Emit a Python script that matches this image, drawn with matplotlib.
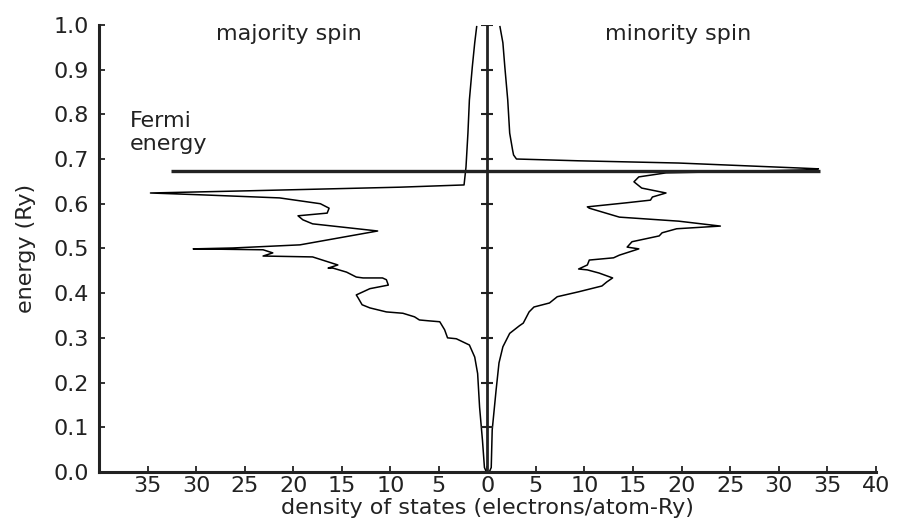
import numpy as np
import matplotlib.pyplot as plt

plt.rcParams['font.family'] = ['DejaVu Sans']

# majority spin DOS (plotted to the left), energy in Ry
maj_energy = [0.0, 0.01, 0.07, 0.145, 0.22, 0.257, 0.284, 0.298, 0.30, 0.318, 0.336,
              0.338, 0.34, 0.347, 0.355, 0.358, 0.367, 0.374, 0.389, 0.396, 0.41,
              0.418, 0.43, 0.434, 0.434, 0.436, 0.447, 0.456, 0.456, 0.463, 0.481,
              0.483, 0.49, 0.497, 0.499, 0.501, 0.508, 0.539, 0.555, 0.564, 0.573,
              0.579, 0.59, 0.60, 0.613, 0.62, 0.624, 0.629, 0.637, 0.642, 0.682,
              0.758, 0.832, 0.906, 0.96, 0.996]
maj_dos = [0.1, 0.3, 0.5, 0.8, 1.0, 1.3, 1.85, 3.2, 4.1, 4.4, 4.9,
           6.0, 7.0, 7.5, 8.7, 10.4, 12.1, 12.9, 13.3, 13.5, 12.1,
           10.2, 10.4, 10.8, 12.8, 13.5, 14.5, 15.9, 16.4, 15.4, 18.0,
           23.1, 22.1, 23.1, 30.3, 26.2, 19.3, 11.3, 18.0, 19.0, 19.5,
           16.5, 16.3, 17.2, 21.4, 29.6, 34.7, 24.4, 9.0, 2.4, 2.2,
           2.0, 1.85, 1.55, 1.3, 1.1]

# minority spin DOS (plotted to the right)
min_energy = [0.0, 0.01, 0.094, 0.183, 0.244, 0.28, 0.31, 0.327, 0.333, 0.358, 0.369,
              0.378, 0.392, 0.403, 0.416, 0.425, 0.434, 0.445, 0.452, 0.454, 0.463,
              0.474, 0.479, 0.485, 0.499, 0.503, 0.515, 0.528, 0.535, 0.544, 0.55,
              0.561, 0.57, 0.59, 0.593, 0.602, 0.608, 0.615, 0.624, 0.635, 0.649,
              0.66, 0.669, 0.671, 0.676, 0.678, 0.68, 0.691, 0.696, 0.70, 0.709,
              0.72, 0.758, 0.832, 0.906, 0.96, 0.996]
min_dos = [0.2, 0.4, 0.5, 0.9, 1.2, 1.6, 2.3, 3.3, 3.7, 4.3, 4.8,
           6.4, 7.2, 9.4, 11.8, 12.3, 12.9, 11.5, 10.3, 9.4, 10.3,
           10.5, 13.0, 13.6, 15.6, 14.4, 14.9, 17.7, 18.0, 19.5, 24.0,
           19.7, 13.6, 10.5, 10.3, 14.3, 16.8, 17.0, 18.4, 15.9, 15.1,
           15.6, 18.4, 23.1, 33.4, 34.1, 32.0, 19.7, 9.4, 3.0, 2.7,
           2.6, 2.3, 2.1, 1.8, 1.6, 1.3]

fermi = 0.674
fermi_span = (-32.6, 34.3)

xticks = [-35, -30, -25, -20, -15, -10, -5, 0, 5, 10, 15, 20, 25, 30, 35, 40]
xlabels = [str(abs(t)) for t in xticks]
yticks = np.round(np.arange(0, 1.01, 0.1), 1)

ink = '#222222'
fs = 16

fig = plt.figure(figsize=(9, 5.26), dpi=100)
ax = fig.add_axes([0.11, 0.1027, 0.863, 0.85])

ax.plot(-np.array(maj_dos), maj_energy, color='black', lw=1.1)
ax.plot(min_dos, min_energy, color='black', lw=1.1)

# Fermi level and the zero axis in the middle
ax.hlines(fermi, *fermi_span, color=ink, lw=2.4)
ax.vlines(0, 0, 1.0, color=ink, lw=2.0)
ax.plot(np.zeros_like(yticks), yticks, ls='none', marker='_', ms=9, mew=1.5,
        color=ink)

ax.set_xlim(-40, 40)
ax.set_ylim(0, 1.0)
ax.set_xticks(xticks)
ax.set_xticklabels(xlabels)
ax.set_yticks(yticks)
ax.set_yticklabels([f'{t:.1f}' for t in yticks])
ax.tick_params(direction='in', length=4, width=1.3, labelsize=fs, colors=ink,
               pad=7)
ax.tick_params(axis='x', pad=3)

for s in ['top', 'right']:
    ax.spines[s].set_visible(False)
for s in ['left', 'bottom']:
    ax.spines[s].set_linewidth(2.2)
    ax.spines[s].set_color(ink)

ax.set_xlabel('density of states (electrons/atom-Ry)', fontsize=fs, labelpad=1,
              color=ink)
ax.set_ylabel('energy (Ry)', fontsize=fs, labelpad=13, color=ink)

ax.text(-20.4, 0.966, 'majority spin', fontsize=fs, ha='center', va='baseline',
        color=ink)
ax.text(19.7, 0.966, 'minority spin', fontsize=fs, ha='center', va='baseline',
        color=ink)
ax.text(-36.8, 0.808, 'Fermi\nenergy', fontsize=fs, ha='left', va='top',
        color=ink, linespacing=1.2)

fig.savefig('out.png', dpi=100)
